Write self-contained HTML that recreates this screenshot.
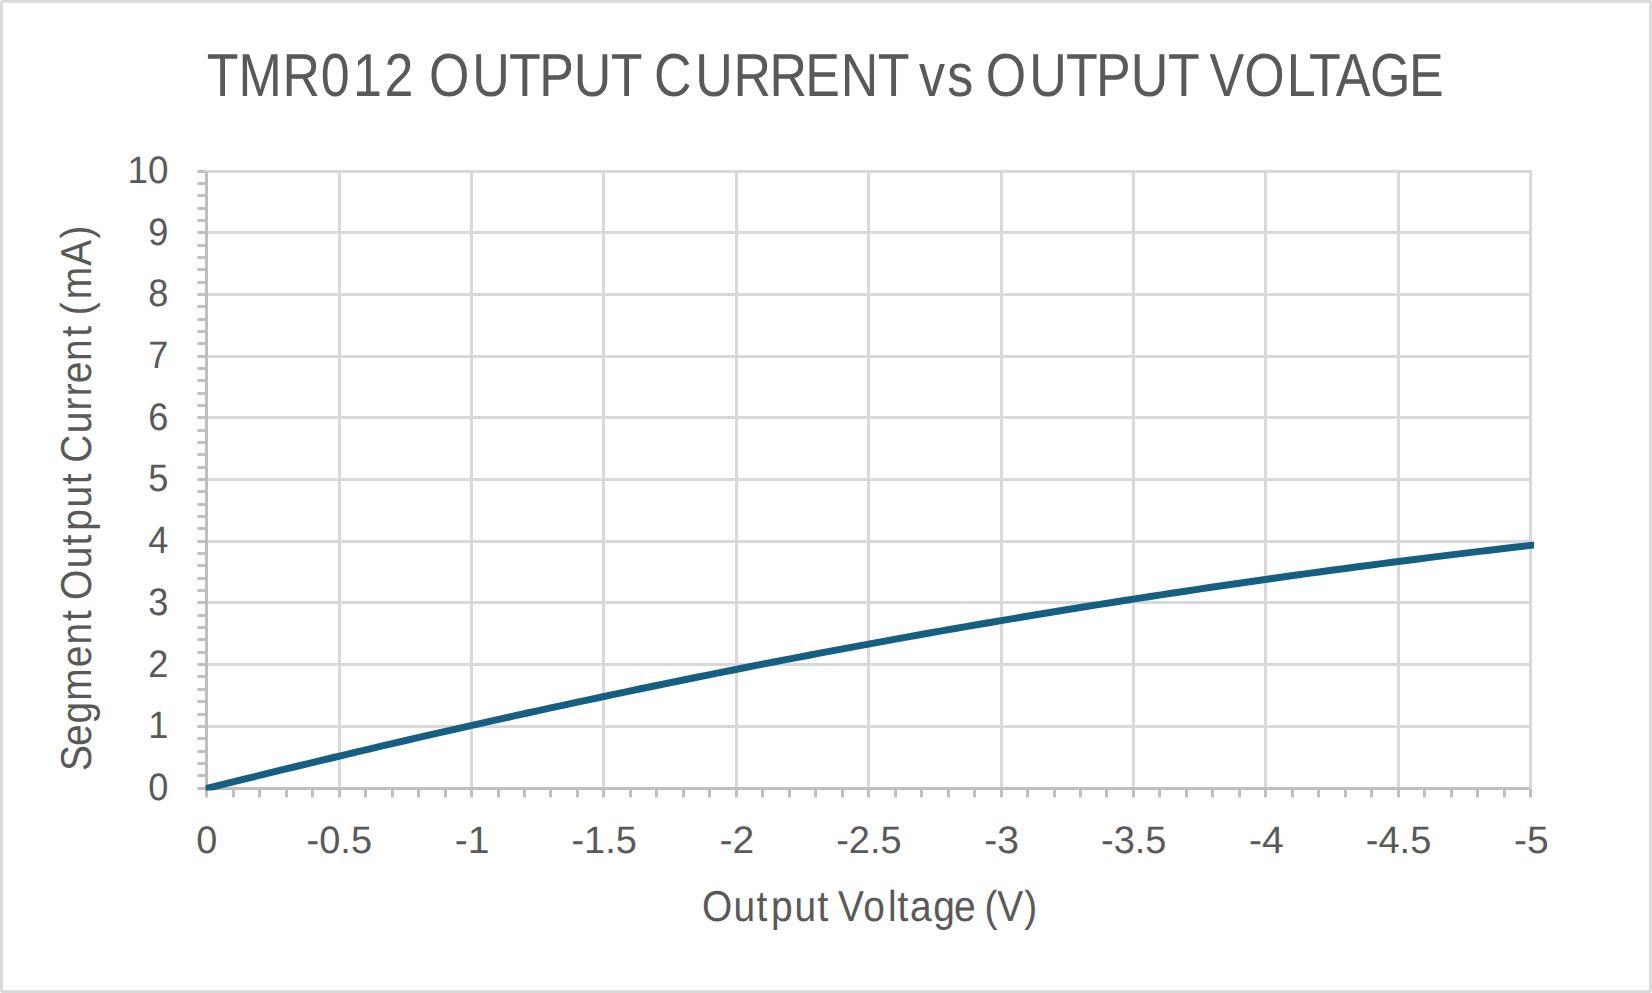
<!DOCTYPE html>
<html lang="en"><head><meta charset="utf-8"><title>TMR012 OUTPUT CURRENT vs OUTPUT VOLTAGE</title>
<style>html,body{margin:0;padding:0;background:#fff;width:1652px;height:993px;overflow:hidden}svg{display:block}text{font-family:"Liberation Sans",sans-serif;fill:#595959}</style>
</head><body>
<svg width="1652" height="993" viewBox="0 0 1652 993" text-rendering="geometricPrecision">
<rect x="0" y="0" width="1652" height="993" fill="#ffffff"/>
<rect x="1.43" y="1.43" width="1649.14" height="990.14" rx="1" ry="1" fill="none" stroke="#D9D9D9" stroke-width="2.86"/>
<g stroke="#D9D9D9" stroke-width="3" fill="none">
<line x1="208" y1="726.5" x2="1532" y2="726.5"/>
<line x1="208" y1="664.5" x2="1532" y2="664.5"/>
<line x1="208" y1="602.5" x2="1532" y2="602.5"/>
<line x1="208" y1="541.5" x2="1532" y2="541.5"/>
<line x1="208" y1="479.5" x2="1532" y2="479.5"/>
<line x1="208" y1="417.5" x2="1532" y2="417.5"/>
<line x1="208" y1="356.5" x2="1532" y2="356.5"/>
<line x1="208" y1="294.5" x2="1532" y2="294.5"/>
<line x1="208" y1="232.5" x2="1532" y2="232.5"/>
<line x1="205" y1="171.5" x2="1532" y2="171.5"/>
<line x1="339.5" y1="170" x2="339.5" y2="787"/>
<line x1="471.5" y1="170" x2="471.5" y2="787"/>
<line x1="603.5" y1="170" x2="603.5" y2="787"/>
<line x1="736.5" y1="170" x2="736.5" y2="787"/>
<line x1="868.5" y1="170" x2="868.5" y2="787"/>
<line x1="1001.5" y1="170" x2="1001.5" y2="787"/>
<line x1="1133.5" y1="170" x2="1133.5" y2="787"/>
<line x1="1265.5" y1="170" x2="1265.5" y2="787"/>
<line x1="1398.5" y1="170" x2="1398.5" y2="787"/>
<line x1="1530.5" y1="170" x2="1530.5" y2="789.1"/>
</g>
<g stroke="#BFBFBF" stroke-width="3" fill="none">
<line x1="206.5" y1="171.5" x2="206.5" y2="797.4"/>
<line x1="197.4" y1="788.5" x2="1529.5" y2="788.5"/>
<line x1="197.4" y1="775.5" x2="205" y2="775.5"/>
<line x1="197.4" y1="763.5" x2="205" y2="763.5"/>
<line x1="197.4" y1="751.5" x2="205" y2="751.5"/>
<line x1="197.4" y1="738.5" x2="205" y2="738.5"/>
<line x1="197.4" y1="726.5" x2="205" y2="726.5"/>
<line x1="197.4" y1="714.5" x2="205" y2="714.5"/>
<line x1="197.4" y1="701.5" x2="205" y2="701.5"/>
<line x1="197.4" y1="689.5" x2="205" y2="689.5"/>
<line x1="197.4" y1="676.5" x2="205" y2="676.5"/>
<line x1="197.4" y1="664.5" x2="205" y2="664.5"/>
<line x1="197.4" y1="652.5" x2="205" y2="652.5"/>
<line x1="197.4" y1="639.5" x2="205" y2="639.5"/>
<line x1="197.4" y1="627.5" x2="205" y2="627.5"/>
<line x1="197.4" y1="615.5" x2="205" y2="615.5"/>
<line x1="197.4" y1="602.5" x2="205" y2="602.5"/>
<line x1="197.4" y1="590.5" x2="205" y2="590.5"/>
<line x1="197.4" y1="578.5" x2="205" y2="578.5"/>
<line x1="197.4" y1="565.5" x2="205" y2="565.5"/>
<line x1="197.4" y1="553.5" x2="205" y2="553.5"/>
<line x1="197.4" y1="541.5" x2="205" y2="541.5"/>
<line x1="197.4" y1="528.5" x2="205" y2="528.5"/>
<line x1="197.4" y1="516.5" x2="205" y2="516.5"/>
<line x1="197.4" y1="504.5" x2="205" y2="504.5"/>
<line x1="197.4" y1="491.5" x2="205" y2="491.5"/>
<line x1="197.4" y1="479.5" x2="205" y2="479.5"/>
<line x1="197.4" y1="467.5" x2="205" y2="467.5"/>
<line x1="197.4" y1="454.5" x2="205" y2="454.5"/>
<line x1="197.4" y1="442.5" x2="205" y2="442.5"/>
<line x1="197.4" y1="430.5" x2="205" y2="430.5"/>
<line x1="197.4" y1="417.5" x2="205" y2="417.5"/>
<line x1="197.4" y1="405.5" x2="205" y2="405.5"/>
<line x1="197.4" y1="393.5" x2="205" y2="393.5"/>
<line x1="197.4" y1="380.5" x2="205" y2="380.5"/>
<line x1="197.4" y1="368.5" x2="205" y2="368.5"/>
<line x1="197.4" y1="356.5" x2="205" y2="356.5"/>
<line x1="197.4" y1="343.5" x2="205" y2="343.5"/>
<line x1="197.4" y1="331.5" x2="205" y2="331.5"/>
<line x1="197.4" y1="319.5" x2="205" y2="319.5"/>
<line x1="197.4" y1="306.5" x2="205" y2="306.5"/>
<line x1="197.4" y1="294.5" x2="205" y2="294.5"/>
<line x1="197.4" y1="282.5" x2="205" y2="282.5"/>
<line x1="197.4" y1="269.5" x2="205" y2="269.5"/>
<line x1="197.4" y1="257.5" x2="205" y2="257.5"/>
<line x1="197.4" y1="245.5" x2="205" y2="245.5"/>
<line x1="197.4" y1="232.5" x2="205" y2="232.5"/>
<line x1="197.4" y1="220.5" x2="205" y2="220.5"/>
<line x1="197.4" y1="208.5" x2="205" y2="208.5"/>
<line x1="197.4" y1="195.5" x2="205" y2="195.5"/>
<line x1="197.4" y1="183.5" x2="205" y2="183.5"/>
<line x1="197.4" y1="171.5" x2="205" y2="171.5"/>
<line x1="233.5" y1="790" x2="233.5" y2="797.4"/>
<line x1="259.5" y1="790" x2="259.5" y2="797.4"/>
<line x1="286.5" y1="790" x2="286.5" y2="797.4"/>
<line x1="312.5" y1="790" x2="312.5" y2="797.4"/>
<line x1="339.5" y1="790" x2="339.5" y2="797.4"/>
<line x1="365.5" y1="790" x2="365.5" y2="797.4"/>
<line x1="392.5" y1="790" x2="392.5" y2="797.4"/>
<line x1="418.5" y1="790" x2="418.5" y2="797.4"/>
<line x1="445.5" y1="790" x2="445.5" y2="797.4"/>
<line x1="471.5" y1="790" x2="471.5" y2="797.4"/>
<line x1="498.5" y1="790" x2="498.5" y2="797.4"/>
<line x1="524.5" y1="790" x2="524.5" y2="797.4"/>
<line x1="550.5" y1="790" x2="550.5" y2="797.4"/>
<line x1="577.5" y1="790" x2="577.5" y2="797.4"/>
<line x1="603.5" y1="790" x2="603.5" y2="797.4"/>
<line x1="630.5" y1="790" x2="630.5" y2="797.4"/>
<line x1="656.5" y1="790" x2="656.5" y2="797.4"/>
<line x1="683.5" y1="790" x2="683.5" y2="797.4"/>
<line x1="709.5" y1="790" x2="709.5" y2="797.4"/>
<line x1="736.5" y1="790" x2="736.5" y2="797.4"/>
<line x1="762.5" y1="790" x2="762.5" y2="797.4"/>
<line x1="789.5" y1="790" x2="789.5" y2="797.4"/>
<line x1="815.5" y1="790" x2="815.5" y2="797.4"/>
<line x1="842.5" y1="790" x2="842.5" y2="797.4"/>
<line x1="868.5" y1="790" x2="868.5" y2="797.4"/>
<line x1="895.5" y1="790" x2="895.5" y2="797.4"/>
<line x1="921.5" y1="790" x2="921.5" y2="797.4"/>
<line x1="948.5" y1="790" x2="948.5" y2="797.4"/>
<line x1="974.5" y1="790" x2="974.5" y2="797.4"/>
<line x1="1001.5" y1="790" x2="1001.5" y2="797.4"/>
<line x1="1027.5" y1="790" x2="1027.5" y2="797.4"/>
<line x1="1054.5" y1="790" x2="1054.5" y2="797.4"/>
<line x1="1080.5" y1="790" x2="1080.5" y2="797.4"/>
<line x1="1106.5" y1="790" x2="1106.5" y2="797.4"/>
<line x1="1133.5" y1="790" x2="1133.5" y2="797.4"/>
<line x1="1159.5" y1="790" x2="1159.5" y2="797.4"/>
<line x1="1186.5" y1="790" x2="1186.5" y2="797.4"/>
<line x1="1212.5" y1="790" x2="1212.5" y2="797.4"/>
<line x1="1239.5" y1="790" x2="1239.5" y2="797.4"/>
<line x1="1265.5" y1="790" x2="1265.5" y2="797.4"/>
<line x1="1292.5" y1="790" x2="1292.5" y2="797.4"/>
<line x1="1318.5" y1="790" x2="1318.5" y2="797.4"/>
<line x1="1345.5" y1="790" x2="1345.5" y2="797.4"/>
<line x1="1371.5" y1="790" x2="1371.5" y2="797.4"/>
<line x1="1398.5" y1="790" x2="1398.5" y2="797.4"/>
<line x1="1424.5" y1="790" x2="1424.5" y2="797.4"/>
<line x1="1451.5" y1="790" x2="1451.5" y2="797.4"/>
<line x1="1477.5" y1="790" x2="1477.5" y2="797.4"/>
<line x1="1504.5" y1="790" x2="1504.5" y2="797.4"/>
<line x1="1530.5" y1="789.1" x2="1530.5" y2="797.4"/>
</g>
<clipPath id="pc"><rect x="205.6" y="166.5" width="1328.4" height="623.95"/></clipPath>
<polyline clip-path="url(#pc)" points="198.56,790.54 210.74,787.49 222.92,784.45 235.10,781.43 247.28,778.42 259.46,775.42 271.64,772.44 283.82,769.47 296.00,766.51 308.18,763.57 320.36,760.64 332.54,757.73 344.73,754.82 356.91,751.94 369.09,749.06 381.27,746.20 393.45,743.36 405.63,740.53 417.81,737.71 429.99,734.91 442.17,732.12 454.35,729.34 466.53,726.59 478.71,723.84 490.90,721.11 503.08,718.40 515.26,715.70 527.44,713.01 539.62,710.34 551.80,707.69 563.98,705.05 576.16,702.42 588.34,699.81 600.52,697.22 612.70,694.64 624.88,692.07 637.06,689.53 649.25,686.99 661.43,684.47 673.61,681.97 685.79,679.49 697.97,677.02 710.15,674.56 722.33,672.12 734.51,669.70 746.69,667.29 758.87,664.90 771.05,662.52 783.23,660.16 795.42,657.82 807.60,655.49 819.78,653.17 831.96,650.88 844.14,648.59 856.32,646.33 868.50,644.08 880.68,641.85 892.86,639.63 905.04,637.43 917.22,635.24 929.40,633.07 941.58,630.92 953.77,628.78 965.95,626.66 978.13,624.55 990.31,622.46 1002.49,620.39 1014.67,618.33 1026.85,616.29 1039.03,614.26 1051.21,612.25 1063.39,610.26 1075.57,608.28 1087.75,606.31 1099.94,604.37 1112.12,602.44 1124.30,600.52 1136.48,598.62 1148.66,596.74 1160.84,594.87 1173.02,593.01 1185.20,591.18 1197.38,589.36 1209.56,587.55 1221.74,585.76 1233.92,583.98 1246.10,582.22 1258.29,580.48 1270.47,578.75 1282.65,577.03 1294.83,575.34 1307.01,573.65 1319.19,571.98 1331.37,570.33 1343.55,568.69 1355.73,567.07 1367.91,565.46 1380.09,563.86 1392.27,562.28 1404.46,560.72 1416.64,559.17 1428.82,557.63 1441.00,556.11 1453.18,554.60 1465.36,553.11 1477.54,551.63 1489.72,550.17 1501.90,548.72 1514.08,547.28 1526.26,545.86 1538.44,544.45" fill="none" stroke="#156082" stroke-width="7" stroke-linejoin="round" stroke-linecap="butt"/>
<text transform="translate(0,95.70) scale(0.855,1)" font-size="60.75" x="241.93 278.91 330.37 375.21 412.86 449.77 485.15 501.89 552.33 595.26 630.72 671.11 714.21 750.99 765.05 813.15 857.86 900.08 941.71 983.37 1026.61 1063.16 1074.87 1107.81 1138.60 1153.05 1203.74 1246.78 1281.89 1322.45 1365.96 1402.81 1414.54 1455.28 1504.90 1530.88 1562.20 1602.26 1648.09" y="0">TMR012 OUTPUT CURRENT vs OUTPUT VOLTAGE</text>
<text transform="translate(0,920.80) scale(0.9,1)" font-size="43.2" x="780.04 815.02 840.50 856.72 882.85 908.39 923.33 931.04 959.26 986.58 997.22 1011.01 1037.08 1060.14 1084.33 1093.82 1108.20 1138.13" y="0">Output Voltage (V)</text>
<text transform="translate(91.40,0) rotate(-90) scale(0.9,1)" font-size="43.2" x="-856.56 -828.80 -803.97 -778.56 -741.25 -715.99 -690.06 -675.22 -666.68 -631.48 -606.11 -589.83 -563.81 -538.00 -523.11 -514.10 -481.48 -456.10 -440.16 -425.75 -401.10 -374.23 -359.56 -350.24 -332.45 -295.24 -264.92" y="0">Segment Output Current (mA)</text>
<text x="168.40" y="799.90" font-size="38.3" textLength="20.13" lengthAdjust="spacingAndGlyphs" text-anchor="end">0</text>
<text x="168.40" y="738.20" font-size="38.3" textLength="20.13" lengthAdjust="spacingAndGlyphs" text-anchor="end">1</text>
<text x="168.40" y="676.50" font-size="38.3" textLength="20.13" lengthAdjust="spacingAndGlyphs" text-anchor="end">2</text>
<text x="168.40" y="614.80" font-size="38.3" textLength="20.13" lengthAdjust="spacingAndGlyphs" text-anchor="end">3</text>
<text x="168.40" y="553.10" font-size="38.3" textLength="20.13" lengthAdjust="spacingAndGlyphs" text-anchor="end">4</text>
<text x="168.40" y="491.40" font-size="38.3" textLength="20.13" lengthAdjust="spacingAndGlyphs" text-anchor="end">5</text>
<text x="168.40" y="429.70" font-size="38.3" textLength="20.13" lengthAdjust="spacingAndGlyphs" text-anchor="end">6</text>
<text x="168.40" y="368.00" font-size="38.3" textLength="20.13" lengthAdjust="spacingAndGlyphs" text-anchor="end">7</text>
<text x="168.40" y="306.30" font-size="38.3" textLength="20.13" lengthAdjust="spacingAndGlyphs" text-anchor="end">8</text>
<text x="168.40" y="244.60" font-size="38.3" textLength="20.13" lengthAdjust="spacingAndGlyphs" text-anchor="end">9</text>
<text x="168.40" y="182.90" font-size="38.3" textLength="40.90" lengthAdjust="spacingAndGlyphs" text-anchor="end">10</text>
<text x="206.85" y="853.00" font-size="38.3" textLength="21.03" lengthAdjust="spacingAndGlyphs" text-anchor="middle">0</text>
<text x="339.31" y="853.00" font-size="38.3" textLength="65.45" lengthAdjust="spacingAndGlyphs" text-anchor="middle">-0.5</text>
<text x="472.01" y="853.00" font-size="38.3" textLength="34.71" lengthAdjust="spacingAndGlyphs" text-anchor="middle">-1</text>
<text x="604.12" y="853.00" font-size="38.3" textLength="65.45" lengthAdjust="spacingAndGlyphs" text-anchor="middle">-1.5</text>
<text x="736.82" y="853.00" font-size="38.3" textLength="34.71" lengthAdjust="spacingAndGlyphs" text-anchor="middle">-2</text>
<text x="868.92" y="853.00" font-size="38.3" textLength="65.45" lengthAdjust="spacingAndGlyphs" text-anchor="middle">-2.5</text>
<text x="1001.63" y="853.00" font-size="38.3" textLength="34.71" lengthAdjust="spacingAndGlyphs" text-anchor="middle">-3</text>
<text x="1133.74" y="853.00" font-size="38.3" textLength="65.45" lengthAdjust="spacingAndGlyphs" text-anchor="middle">-3.5</text>
<text x="1266.44" y="853.00" font-size="38.3" textLength="34.71" lengthAdjust="spacingAndGlyphs" text-anchor="middle">-4</text>
<text x="1398.55" y="853.00" font-size="38.3" textLength="65.45" lengthAdjust="spacingAndGlyphs" text-anchor="middle">-4.5</text>
<text x="1531.25" y="853.00" font-size="38.3" textLength="34.71" lengthAdjust="spacingAndGlyphs" text-anchor="middle">-5</text>
</svg>
</body></html>
